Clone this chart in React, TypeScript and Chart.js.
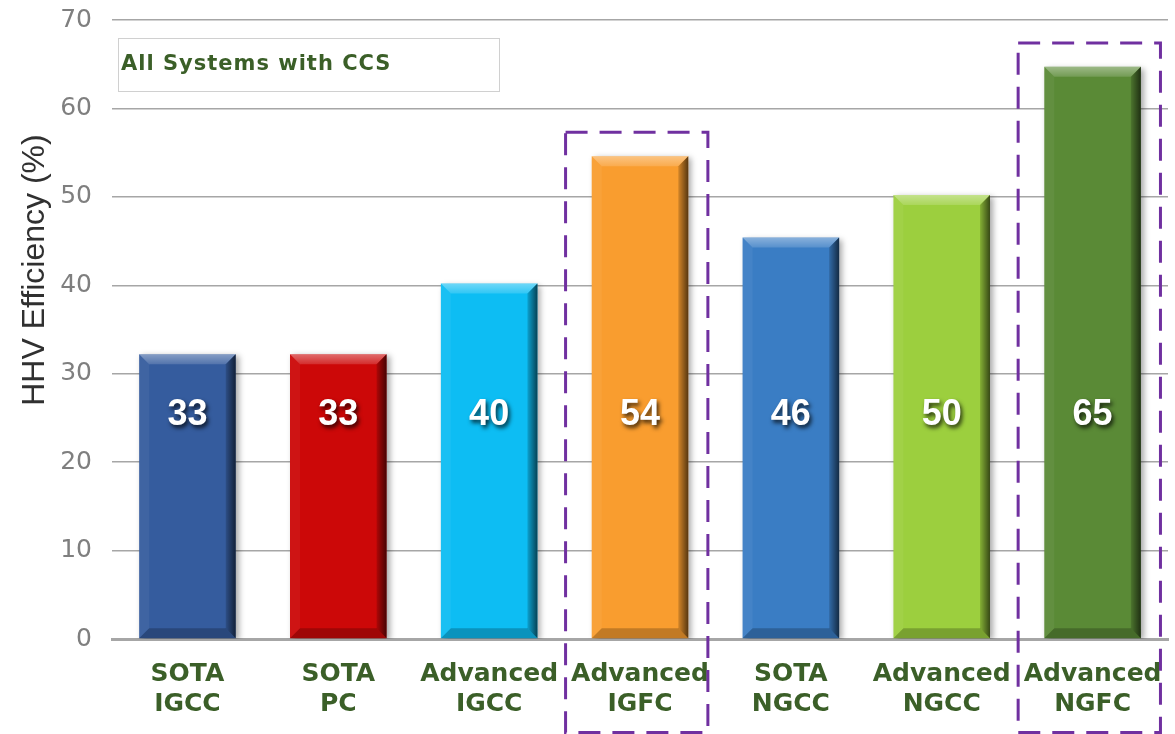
import React, { useEffect, useRef } from "react";
import { Chart, registerables } from "chart.js";

Chart.register(...registerables);

const categories: string[][] = [
  ["SOTA", "IGCC"],
  ["SOTA", "PC"],
  ["Advanced", "IGCC"],
  ["Advanced", "IGFC"],
  ["SOTA", "NGCC"],
  ["Advanced", "NGCC"],
  ["Advanced", "NGFC"],
];
const barValues: number[] = [32.2, 32.2, 40.2, 54.6, 45.4, 50.2, 64.7];
const valueLabels: string[] = ["33", "33", "40", "54", "46", "50", "65"];
const barColors: string[] = ["#355C9E", "#CC0808", "#0DBDF3", "#F99D2F", "#3A7DC4", "#9CCF3E", "#5A8A36"];
const highlighted: number[] = [3, 6];
const noteText = "All Systems with CCS";
const yTitle = "HHV Efficiency (%)";
const yMin = 0;
const yMax = 70;
const yStep = 10;

const LABEL_LEVEL = 25.3;

const bevelPlugin = {
  id: "bevel",
  beforeDatasetDraw(chart: any) {
    const ctx = chart.ctx;
    ctx.save();
    ctx.shadowColor = "rgba(0,0,0,0.35)";
    ctx.shadowBlur = 6;
    ctx.shadowOffsetX = 3;
    ctx.shadowOffsetY = 2;
  },
  afterDatasetDraw(chart: any) {
    chart.ctx.restore();
  },
  afterDatasetsDraw(chart: any) {
    const ctx = chart.ctx;
    const meta = chart.getDatasetMeta(0);
    const yScale = chart.scales.y;
    meta.data.forEach((bar: any, i: number) => {
      const { x, y, base, width } = bar.getProps(["x", "y", "base", "width"], true);
      const x0 = x - width / 2;
      const x1 = x + width / 2;
      const y0 = y;
      const y1 = base;
      const b = 10;
      ctx.save();
      // top bevel
      let g = ctx.createLinearGradient(0, y0, 0, y0 + b);
      g.addColorStop(0, "rgba(255,255,255,0.4)");
      g.addColorStop(1, "rgba(255,255,255,0.15)");
      ctx.fillStyle = g;
      ctx.beginPath();
      ctx.moveTo(x0, y0);
      ctx.lineTo(x1, y0);
      ctx.lineTo(x1 - b, y0 + b);
      ctx.lineTo(x0 + b, y0 + b);
      ctx.closePath();
      ctx.fill();
      // left bevel
      ctx.fillStyle = "rgba(255,255,255,0.05)";
      ctx.beginPath();
      ctx.moveTo(x0, y0);
      ctx.lineTo(x0 + b, y0 + b);
      ctx.lineTo(x0 + b, y1 - b);
      ctx.lineTo(x0, y1);
      ctx.closePath();
      ctx.fill();
      // right bevel
      g = ctx.createLinearGradient(x1 - b, 0, x1, 0);
      g.addColorStop(0, "rgba(0,0,0,0.15)");
      g.addColorStop(1, "rgba(0,0,0,0.65)");
      ctx.fillStyle = g;
      ctx.beginPath();
      ctx.moveTo(x1, y0);
      ctx.lineTo(x1, y1);
      ctx.lineTo(x1 - b, y1 - b);
      ctx.lineTo(x1 - b, y0 + b);
      ctx.closePath();
      ctx.fill();
      // bottom bevel
      ctx.fillStyle = "rgba(0,0,0,0.22)";
      ctx.beginPath();
      ctx.moveTo(x0, y1);
      ctx.lineTo(x1, y1);
      ctx.lineTo(x1 - b, y1 - b);
      ctx.lineTo(x0 + b, y1 - b);
      ctx.closePath();
      ctx.fill();
      ctx.restore();

      // value label
      ctx.save();
      ctx.font = 'bold 36px "Liberation Sans", Arial, sans-serif';
      ctx.fillStyle = "#FFFFFF";
      ctx.textAlign = "center";
      ctx.textBaseline = "middle";
      ctx.shadowColor = "rgba(0,0,0,0.75)";
      ctx.shadowBlur = 4;
      ctx.shadowOffsetX = 2;
      ctx.shadowOffsetY = 3;
      ctx.fillText(valueLabels[i], x, yScale.getPixelForValue(LABEL_LEVEL));
      ctx.restore();
    });
  },
  afterDraw(chart: any) {
    const ctx = chart.ctx;
    const xScale = chart.scales.x;
    const yScale = chart.scales.y;
    const cw = (xScale.right - xScale.left) / categories.length;
    ctx.save();
    ctx.strokeStyle = "#7030A0";
    ctx.lineWidth = 3;
    ctx.setLineDash([22, 12]);
    highlighted.forEach((i) => {
      const cx = xScale.getPixelForValue(i);
      const left = cx - cw * 0.5 + 1;
      const right = cx + cw * 0.45;
      const top = yScale.getPixelForValue(barValues[i] + 2.7);
      const bottom = chart.height - 1.5;
      ctx.strokeRect(left, top, right - left, bottom - top);
    });
    ctx.restore();

    // note box
    ctx.save();
    ctx.fillStyle = "#FFFFFF";
    ctx.fillRect(118.5, 38.5, 381, 53);
    ctx.strokeStyle = "#D0D0D0";
    ctx.lineWidth = 1;
    ctx.strokeRect(118.5, 38.5, 381, 53);
    ctx.font = 'bold 21px "DejaVu Sans", sans-serif';
    (ctx as any).letterSpacing = "1px";
    ctx.fillStyle = "#3B5F28";
    ctx.textAlign = "left";
    ctx.textBaseline = "middle";
    ctx.fillText(noteText, 121, 65);
    ctx.restore();

    // y title
    ctx.save();
    ctx.translate(35, 270);
    ctx.rotate(-Math.PI / 2);
    ctx.font = '32px "Liberation Sans", Arial, sans-serif';
    ctx.fillStyle = "#303030";
    ctx.textAlign = "center";
    ctx.textBaseline = "middle";
    ctx.fillText(yTitle, 0, 0);
    ctx.restore();
  },
};

export default function App() {
  const canvasRef = useRef<HTMLCanvasElement | null>(null);

  useEffect(() => {
    document.body.style.margin = "0";
    const canvas = canvasRef.current;
    if (!canvas) return;
    const chart = new Chart(canvas, {
      type: "bar",
      data: {
        labels: categories,
        datasets: [
          {
            data: barValues,
            backgroundColor: barColors,
            borderWidth: 0,
            categoryPercentage: 1,
            barPercentage: 0.64,
          },
        ],
      },
      options: {
        animation: false,
        responsive: true,
        maintainAspectRatio: false,
        layout: { padding: { top: 20, right: 7, left: 0, bottom: 0 } },
        plugins: {
          legend: { display: false },
          tooltip: { enabled: false },
        },
        scales: {
          x: {
            grid: { display: false },
            border: { display: true, color: "#A6A6A6", width: 3 },
            ticks: {
              autoSkip: false,
              maxRotation: 0,
              minRotation: 0,
              padding: 12,
              color: "#3B5F28",
              font: { family: '"DejaVu Sans", sans-serif', size: 25, weight: "bold", lineHeight: 1.2 },
            },
            afterFit: (scale: any) => {
              scale.height = 95;
              scale.paddingTop = 0;
              scale.paddingBottom = 0;
            },
          },
          y: {
            min: yMin,
            max: yMax,
            grid: { color: "#A6A6A6", lineWidth: 1.5, drawTicks: false },
            border: { display: false },
            ticks: {
              stepSize: yStep,
              padding: 20,
              color: "#7F7F7F",
              font: { family: '"DejaVu Sans", sans-serif', size: 25 },
            },
            afterFit: (scale: any) => {
              scale.width = 112;
              scale.paddingTop = 0;
              scale.paddingBottom = 0;
            },
          },
        },
      },
      plugins: [bevelPlugin],
    });
    return () => chart.destroy();
  }, []);

  return (
    <div style={{ position: "fixed", left: 0, top: 0, width: 1175, height: 734 }}>
      <canvas ref={canvasRef} />
    </div>
  );
}
